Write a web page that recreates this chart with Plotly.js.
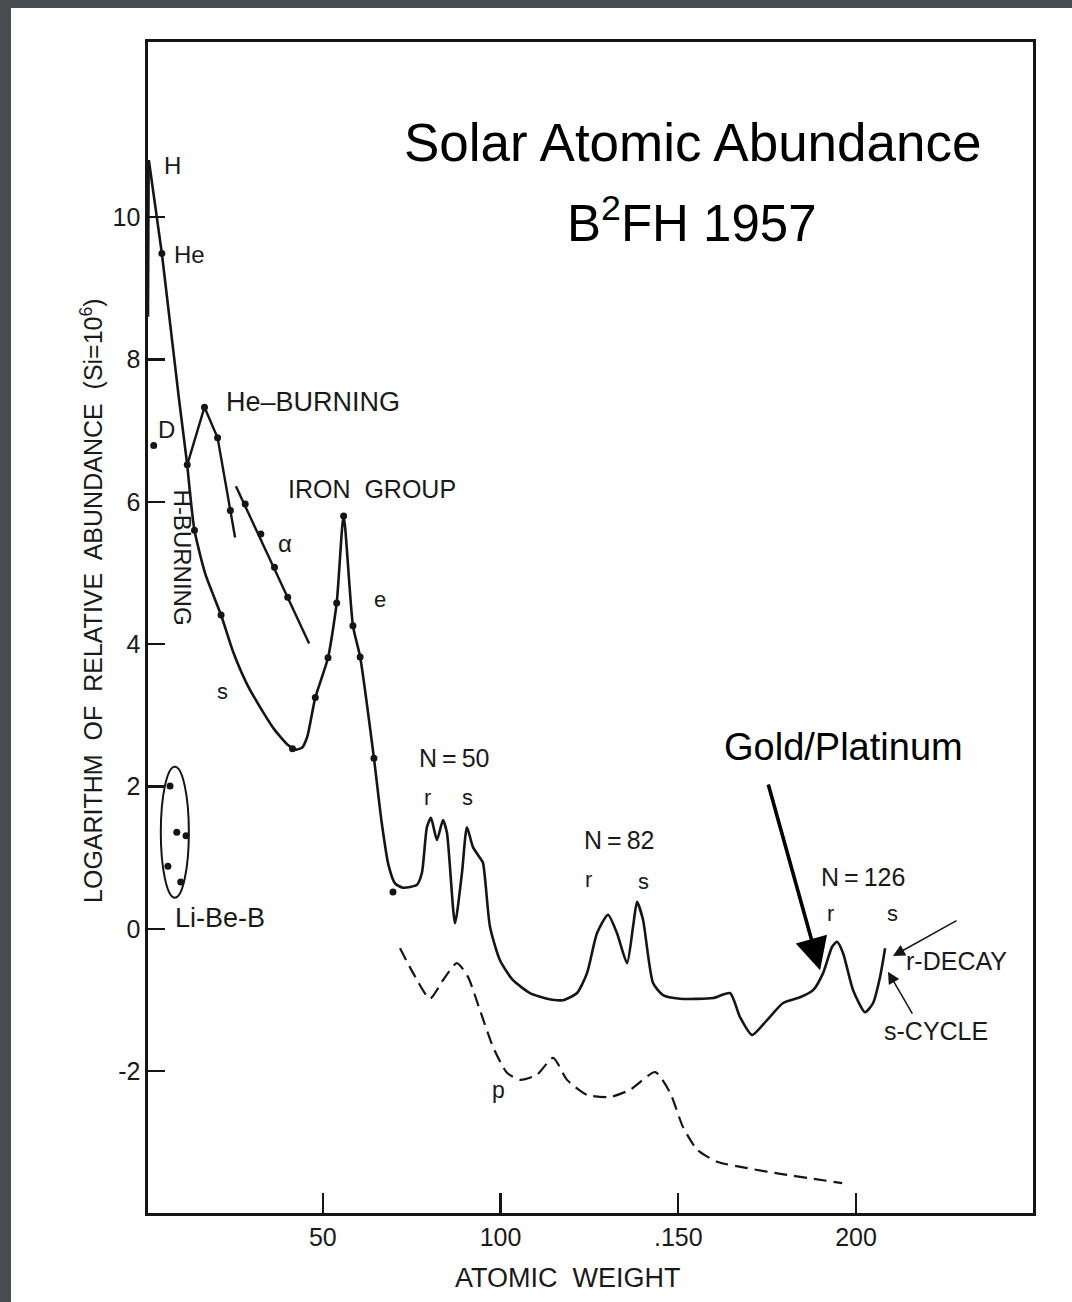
<!DOCTYPE html>
<html><head><meta charset="utf-8">
<script src="https://cdn.plot.ly/plotly-3.0.1.min.js"></script>
<style>html,body{margin:0;padding:0;background:#4a4d50;}#chart{width:1072px;height:1302px;}</style>
</head><body><div id="chart"></div>
<script>
// Main solid abundance curve (atomic weight, log abundance)
const curveX = [1.04,4.70,9.48,11.84,13.88,16.97,21.36,24.77,28.65,32.54,36.39,40.30,42.5,44.2,45.6,47.87,51.45,53.89,55.84,58.46,60.49,64.37,66.51,68.45,70.3,72.53,76.47,77.87,79.28,80.41,82.10,83.79,84.91,87.17,89.14,90.54,92.23,94.20,95.05,97.02,99.83,103.49,108.28,113.06,117.56,121.50,124.32,127.13,130.23,132.76,135.58,137.27,138.39,140.08,142.90,145.71,150.49,159.78,164.56,167.38,170.76,174.98,179.48,184.27,187.93,190.74,193.28,194.68,196.37,199.18,202.56,204.81,206.78,208.19];
const curveY = [10.80,9.49,7.46,6.52,5.60,4.98,4.41,3.89,3.44,3.10,2.80,2.58,2.52,2.55,2.70,3.25,3.81,4.58,5.80,4.26,3.82,2.40,1.51,0.90,0.64,0.58,0.62,0.79,1.43,1.56,1.25,1.53,1.35,0.08,0.79,1.43,1.15,1.00,0.93,0.03,-0.44,-0.72,-0.90,-0.98,-1.00,-0.90,-0.62,-0.06,0.20,-0.06,-0.48,0.03,0.38,0.13,-0.76,-0.93,-0.98,-0.97,-0.90,-1.24,-1.49,-1.28,-1.04,-0.96,-0.86,-0.62,-0.25,-0.18,-0.34,-0.86,-1.17,-1.04,-0.67,-0.27];
// left flank of the H spike
const hFlankX = [1.04,0.85];
const hFlankY = [10.80,8.6];
// He-burning branch
const heBurnX = [11.84,16.69,20.38,23.98,25.3];
const heBurnY = [6.52,7.33,6.90,5.88,5.50];
// alpha-process line
const alphaX = [25.53,46.13];
const alphaY = [6.22,4.01];
// p-process dashed curve
const pX = [71.7,75.4,80.1,83.8,87.7,90.8,94.2,97.9,101.8,105.5,110.2,114.8,118.7,124.3,130.8,136.4,143.5,147.7,151.3,155.3,160.9,169.4,178.7,188.0,196.1];
const pY = [-0.27,-0.62,-0.98,-0.72,-0.48,-0.67,-1.14,-1.66,-2.02,-2.12,-2.05,-1.81,-2.12,-2.33,-2.36,-2.26,-2.01,-2.30,-2.78,-3.10,-3.27,-3.36,-3.44,-3.51,-3.57];
// measured points
const dotX = [2.41,4.70,11.84,13.88,21.36,16.69,20.38,23.98,28.15,32.54,36.39,40.11,41.46,47.87,51.45,53.89,55.84,58.46,60.49,64.37,69.72];
const dotY = [6.79,9.49,6.52,5.60,4.41,7.33,6.90,5.88,5.97,5.55,5.08,4.66,2.53,3.25,3.81,4.58,5.80,4.26,3.82,2.40,0.52];
// Li-Be-B points
const libebX = [7.0,8.9,11.5,6.4,10.0];
const libebY = [2.01,1.36,1.31,0.88,0.66];
// tick labels
const xTickVals = [50,100,150,200];
const xTickText = ['50','100','.150','200'];
const yTickVals = [-2,0,2,4,6,8,10];
const yTickText = ['-2','0','2','4','6','8','10'];
// scan labels
const labText = ['H','He','D','He\u2013BURNING','IRON\u00A0 GROUP','\u03B1','e','s','N\u2009=\u200950','r','s','N\u2009=\u200982','r','s','N\u2009=\u2009126','r','s','r-DECAY','s-CYCLE','Li-Be-B','p'];
const labX = [7.8,12.6,6.1,47.2,63.8,39.3,66.1,21.9,86.9,79.3,90.8,133.3,124.6,140.1,202.0,192.7,210.4,228.2,222.5,21.1,99.3];
const labY = [10.72,9.48,7.01,7.40,6.18,5.42,4.63,3.34,2.40,1.84,1.84,1.25,0.69,0.66,0.73,0.22,0.22,-0.45,-1.43,0.15,-2.26];
const labSize = [24,24,24,27,25,24,22,22,25,22,22,25,22,22,25,22,22,25,25,27,23];

const ink = '#151515';
const scanFont = 'Liberation Sans, Arial, sans-serif';

const traces = [
  {x: hFlankX, y: hFlankY, mode:'lines', line:{color:ink,width:2.2}, hoverinfo:'skip'},
  {x: curveX.slice(0,4), y: curveY.slice(0,4), mode:'lines', line:{color:ink,width:2.6}, hoverinfo:'skip'},
  {x: curveX.slice(3), y: curveY.slice(3), mode:'lines', line:{color:ink,width:2.6,shape:'spline',smoothing:0.6}, hoverinfo:'skip'},
  {x: heBurnX, y: heBurnY, mode:'lines', line:{color:ink,width:2.4}, hoverinfo:'skip'},
  {x: alphaX, y: alphaY, mode:'lines', line:{color:ink,width:2.4}, hoverinfo:'skip'},
  {x: pX, y: pY, mode:'lines', line:{color:ink,width:2.2,dash:'13px,7px',shape:'spline',smoothing:0.6}, hoverinfo:'skip'},
  {x: dotX, y: dotY, mode:'markers', marker:{color:ink,size:7}, hoverinfo:'skip'},
  {x: libebX, y: libebY, mode:'markers', marker:{color:ink,size:7}, hoverinfo:'skip'}
];

const annotations = labText.map((t,i)=>({
  x: labX[i], y: labY[i], xref:'x', yref:'y', xanchor:'center', yanchor:'middle', text:t, showarrow:false,
  font:{family:scanFont,size:labSize[i],color:'#1a1a1a'}
}));
annotations.push({x:10.6,y:5.22,xref:'x',yref:'y',xanchor:'center',yanchor:'middle',text:'H-BURNING',textangle:90,showarrow:false,font:{family:scanFont,size:24,color:'#1a1a1a'}});
annotations.push({x:-0.0633,y:0.5235,xref:'paper',yref:'paper',xanchor:'center',yanchor:'middle',text:'LOGARITHM\u00A0 OF\u00A0 RELATIVE\u00A0 ABUNDANCE\u00A0 (Si=10<sup>6</sup>)',textangle:-90,showarrow:false,font:{family:scanFont,size:25,color:'#1a1a1a'}});
annotations.push({x:0.4746,y:-0.0555,xref:'paper',yref:'paper',xanchor:'center',yanchor:'middle',text:'ATOMIC\u00A0 WEIGHT',showarrow:false,font:{family:scanFont,size:27,color:'#1a1a1a'}});
annotations.push({x:154.2,y:11.05,xref:'x',yref:'y',xanchor:'center',yanchor:'middle',text:'Solar Atomic Abundance',showarrow:false,font:{family:'Liberation Sans, Arial, sans-serif',size:53,color:'#000'}});
annotations.push({x:153.9,y:9.96,xref:'x',yref:'y',xanchor:'center',yanchor:'middle',text:'B<sup>2</sup>FH 1957',showarrow:false,font:{family:'Liberation Sans, Arial, sans-serif',size:51,color:'#000'}});
annotations.push({x:196.4,y:2.56,xref:'x',yref:'y',xanchor:'center',yanchor:'middle',text:'Gold/Platinum',showarrow:false,font:{family:'Liberation Sans, Arial, sans-serif',size:38,color:'#000'}});
// arrows
annotations.push({x:189.9,y:-0.58,ax:175.2,ay:2.05,xref:'x',yref:'y',axref:'x',ayref:'y',text:'',showarrow:true,arrowhead:2,arrowsize:1.8,arrowwidth:3.6,arrowcolor:'#000'});
annotations.push({x:210.4,y:-0.38,ax:228.7,ay:0.13,xref:'x',yref:'y',axref:'x',ayref:'y',text:'',showarrow:true,arrowhead:2,arrowsize:1.6,arrowwidth:1.5,arrowcolor:ink});
annotations.push({x:209.0,y:-0.60,ax:216.1,ay:-1.21,xref:'x',yref:'y',axref:'x',ayref:'y',text:'',showarrow:true,arrowhead:2,arrowsize:1.6,arrowwidth:1.5,arrowcolor:ink});

const layout = {
  width:1072, height:1302,
  margin:{l:148,r:39,t:42,b:89},
  paper_bgcolor:'#4a4d50', plot_bgcolor:'rgba(0,0,0,0)',
  showlegend:false,
  xaxis:{range:[0.8,249.8],showgrid:false,zeroline:false,showline:true,linecolor:ink,linewidth:2.6,mirror:true,
    ticks:'inside',ticklen:20,tickwidth:2.4,tickcolor:ink,tickvals:xTickVals,ticktext:xTickText,ticklabelstandoff:0,
    tickfont:{family:scanFont,size:25,color:'#1a1a1a'}},
  yaxis:{range:[-3.99,12.46],showgrid:false,zeroline:false,showline:true,linecolor:ink,linewidth:2.6,mirror:true,
    ticks:'inside',ticklen:17,tickwidth:2.2,tickcolor:ink,tickvals:yTickVals,ticktext:yTickText,ticklabelstandoff:0,
    tickfont:{family:scanFont,size:25,color:'#1a1a1a'}},
  shapes:[
    {type:'rect',xref:'paper',yref:'paper',x0:-0.1548,x1:1.05,y0:-0.08,y1:1.029,fillcolor:'#ffffff',line:{width:0},layer:'below'},
    {type:'circle',xref:'x',yref:'y',x0:4.4,x1:12.3,y0:0.44,y1:2.28,line:{color:ink,width:2}}
  ],
  annotations:annotations
};
Plotly.newPlot('chart',traces,layout,{displayModeBar:false,staticPlot:true});
</script></body></html>
